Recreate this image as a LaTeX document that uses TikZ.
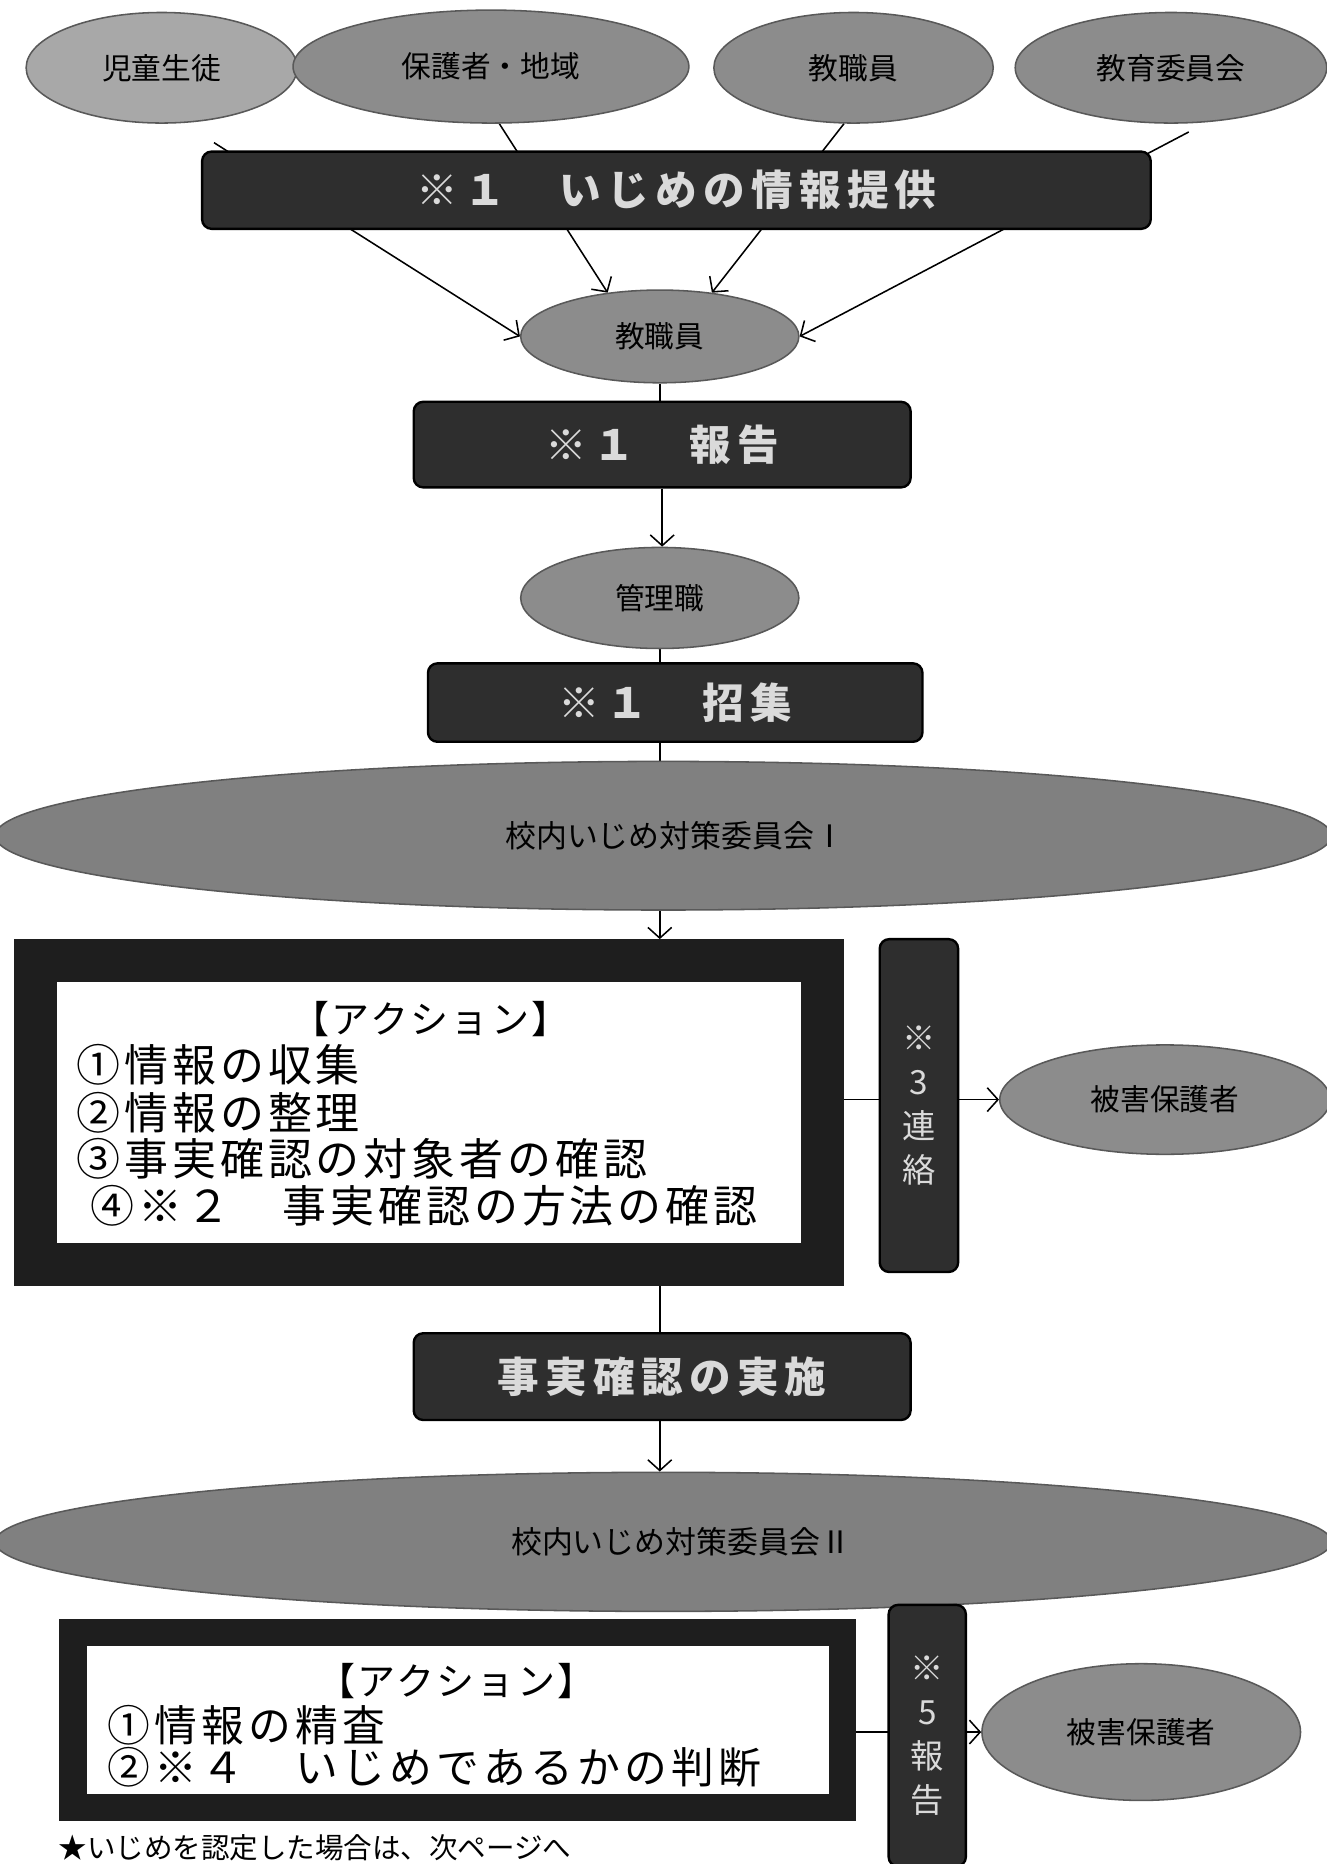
\documentclass[tikz,border=0pt]{standalone}
\usepackage{fontspec}
\newfontfamily\jp{Noto Sans CJK JP}
\usetikzlibrary{shapes.geometric,backgrounds,arrows.meta}
\definecolor{ellA}{HTML}{A8A8A8}
\definecolor{ellB}{HTML}{8C8C8C}
\definecolor{ellC}{HTML}{808080}
\definecolor{boxD}{HTML}{2E2E2E}
\definecolor{boxT}{HTML}{DADADA}
\definecolor{frameC}{HTML}{1E1E1E}
\begin{document}
\begin{tikzpicture}[x=1pt,y=-1pt,
  ell/.style={ellipse, draw=black!65, line width=1.3pt, fill=ellB, inner sep=0pt, font=\jp\fontsize{25}{28}\selectfont},
  bigell/.style={ell, fill=ellC, font=\jp\fontsize{26}{30}\selectfont},
  darkbox/.style={rectangle, rounded corners=8pt, draw=black, line width=2pt, fill=boxD, text=boxT, inner sep=0pt, font={\jp\bfseries\fontsize{35}{40}\selectfont\addfontfeature{LetterSpace=15}}},
  vbox/.style={darkbox, font=\jp\fontsize{28}{37}\selectfont, align=center},
  frame/.style={rectangle, draw=frameC, fill=white, inner sep=0pt},
  acttext/.style={inner sep=0pt, font={\jp\fontsize{37}{42}\selectfont\addfontfeature{LetterSpace=9}}},
  acthead/.style={inner sep=0pt, font={\jp\fontsize{32}{36}\selectfont\addfontfeature{LetterSpace=6}}},
  acttextB/.style={inner sep=0pt, anchor=west, font={\jp\fontsize{36}{40}\selectfont\addfontfeature{LetterSpace=10}}},
  conn/.style={draw=black, line width=1.3pt},
  arr/.style={conn, -{Straight Barb[length=9pt,width=20pt]}},
]
\useasboundingbox (0,0) rectangle (1116,1568);

% top sources
\node[ell, fill=ellA, minimum width=228pt, minimum height=93pt] (e1) at (136,57) {児童生徒};
\node[ell, minimum width=333pt, minimum height=95pt] (e2) at (413,56) {保護者・地域};
\node[ell, minimum width=235pt, minimum height=93pt] (e3) at (718,57) {教職員};
\node[ell, minimum width=262pt, minimum height=93pt] (e4) at (985,57) {教育委員会};
\coordinate (s1) at (180,120);
\coordinate (s2) at (420,104);
\coordinate (s3) at (710,104);
\coordinate (s4) at (1000,111);

\node[darkbox, minimum width=798pt, minimum height=65pt] (info) at (569,160) {※１　いじめの情報提供};

\node[ell, minimum width=234pt, minimum height=78pt] (t) at (555,283) {教職員};
\node[darkbox, minimum width=418pt, minimum height=72pt] (rep) at (557,374) {※１　報告};
\node[ell, minimum width=234pt, minimum height=85pt] (mgr) at (555,503) {管理職};
\node[darkbox, minimum width=416pt, minimum height=66pt] (conv) at (568,591) {※１　招集};
\node[bigell, minimum width=1124pt, minimum height=125pt] (big1) at (558,703) {\hspace*{20pt}校内いじめ対策委員会Ⅰ};

% action box I
\node[frame, line width=36pt, minimum width=662pt, minimum height=256pt] (act1) at (361,936) {};
\node[acthead] (a1h) at (362,857) {【アクション】};
\node[acttext, anchor=west] (a1l1) at (64,896) {①情報の収集};
\node[acttext, anchor=west] (a1l2) at (64,936) {②情報の整理};
\node[acttext, anchor=west] (a1l3) at (64,975) {③事実確認の対象者の確認};
\node[acttext, anchor=west] (a1l4) at (76,1014) {④※２　事実確認の方法の確認};
\node[vbox, minimum width=66pt, minimum height=280pt] (v1) at (773,930) {※\\3\\連\\絡};
\node[ell, minimum width=278pt, minimum height=92pt] (h1) at (980,925) {被害保護者};

\node[darkbox, minimum width=418pt, minimum height=73pt] (fact) at (557,1158) {事実確認の実施};
\node[bigell, minimum width=1124pt, minimum height=117pt] (big2) at (558,1297) {\hspace*{30pt}校内いじめ対策委員会Ⅱ};

% action box II
\node[frame, line width=23pt, minimum width=647pt, minimum height=147pt] (act2) at (385,1447) {};
\node[acthead] (a2h) at (384,1414) {【アクション】};
\node[acttextB] (a2l1) at (90,1451) {①情報の精査};
\node[acttextB] (a2l2) at (90,1487) {②※４　いじめであるかの判断};
\node[vbox, minimum width=65pt, minimum height=220pt] (v2) at (780,1460) {※\\5\\報\\告};
\node[ell, minimum width=268pt, minimum height=115pt] (h2) at (960,1457) {被害保護者};

\node[inner sep=0pt, anchor=west, font=\jp\fontsize{24}{28}\selectfont] (note) at (49,1554) {★いじめを認定した場合は、次ページへ};

\begin{scope}[on background layer]
  \fill[white] (0,0) rectangle (1116,1568);
  \draw[arr] (s1) -- (t.180);
  \draw[arr] (s2) -- (t.140);
  \draw[arr] (s3) -- (t.40);
  \draw[arr] (s4) -- (t.0);
  \draw[conn] (t.south) -- (t.south |- rep.north);
  \draw[arr] (rep.south) -- (rep.south |- mgr.north);
  \draw[conn] (mgr.south) -- (mgr.south |- conv.north);
  \draw[conn] (mgr.south |- conv.south) -- (mgr.south |- big1.north);
  \draw[arr] (mgr.south |- big1.south) -- (mgr.south |- act1.north);
  \draw[arr] (act1.east |- h1.west) -- (h1.west);
  \draw[conn] (mgr.south |- act1.south) -- (mgr.south |- fact.north);
  \draw[arr] (mgr.south |- fact.south) -- (mgr.south |- big2.north);
  \draw[arr] (act2.east |- h2.west) -- (h2.west);
\end{scope}
\end{tikzpicture}
\end{document}
